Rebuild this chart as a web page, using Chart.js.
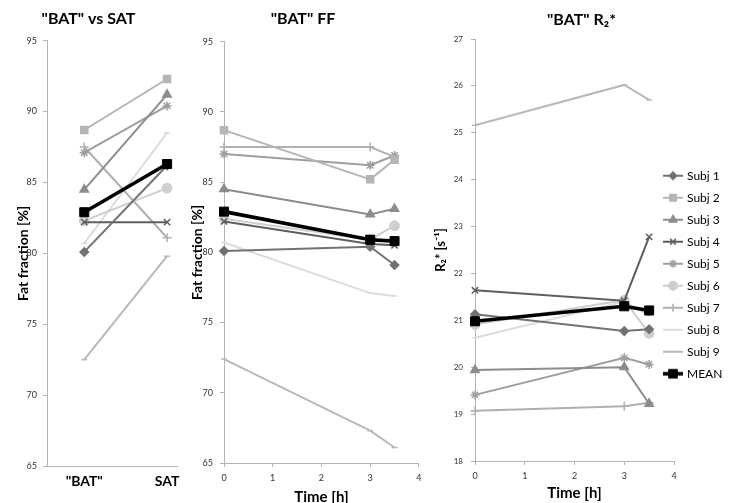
<!DOCTYPE html>
<html><head><meta charset="utf-8">
<script src="https://cdn.jsdelivr.net/npm/chart.js@4.4.1/dist/chart.umd.min.js"></script>
<style>
html,body{margin:0;padding:0;background:#fff;width:733px;height:503px;overflow:hidden;position:relative}
canvas{position:absolute;top:0}
</style></head><body>
<canvas id="c1" width="250" height="510" style="left:0px"></canvas>
<canvas id="c2" width="242" height="510" style="left:185px"></canvas>
<canvas id="c3" width="303" height="510" style="left:430px"></canvas>
<script>
// ---------- DATA ----------
const seriesNames = ['Subj 1','Subj 2','Subj 3','Subj 4','Subj 5','Subj 6','Subj 7','Subj 8','Subj 9','MEAN'];
const groups = ['"BAT"', 'SAT'];
const times = [0, 3, 3.5];

// Panel 1: fat fraction [%], "BAT" vs SAT (one row per series)
const batVsSat = [
  [80.1, 86.2],
  [88.7, 92.3],
  [84.5, 91.2],
  [82.2, 82.2],
  [87.1, 90.4],
  [82.3, 84.6],
  [87.5, 81.1],
  [80.7, 88.5],
  [72.5, 79.8],
  [82.9, 86.3]
];

// Panel 2: "BAT" fat fraction [%] at times 0, 3, 3.5 h
const batFF = [
  [80.1, 80.4, 79.1],
  [88.7, 85.2, 86.6],
  [84.5, 82.7, 83.1],
  [82.2, 80.6, 80.5],
  [87.0, 86.2, 86.9],
  [82.4, 80.9, 81.9],
  [87.5, 87.5, 86.8],
  [80.7, 77.1, 76.9],
  [72.4, 67.3, 66.1],
  [82.9, 80.9, 80.8]
];

// Panel 3: "BAT" R2* [1/s] at times 0, 3, 3.5 h (Subj 2 not available)
const batR2 = [
  [21.13, 20.77, 20.81],
  [null, null, null],
  [19.94, 20.00, 19.22],
  [21.64, 21.42, 22.78],
  [19.41, 20.20, 20.06],
  [20.91, 21.43, 20.72],
  [19.07, 19.17, 19.24],
  [20.63, 21.40, 21.10],
  [25.16, 26.02, 25.70],
  [20.98, 21.30, 21.21]
];

const ffTicks = {min: 65, max: 95, step: 5};
const r2Ticks = {min: 18, max: 27, step: 1};
const timeTicks = {min: 0, max: 4, step: 1};

// ---------- STYLE ----------
const FONT = 'Lato, "Open Sans", "DejaVu Sans", sans-serif';
Chart.defaults.font.family = FONT;
const AXIS = '#b3b3b3';
const colors  = ['#727272','#b5b5b5','#8c8c8c','#5e5e5e','#9e9e9e','#cfcfcf','#b0b0b0','#dcdcdc','#b9b9b9','#000000'];
const pStyles = ['rectRot','rect','triangle','crossRot','star','circle','cross','line','line','rect'];
const pRadius = [4.2, 5, 4.8, 4.5, 4.5, 4.6, 4.5, 3, 3, 6.4];
const lWidth  = [2, 2, 2, 2, 2, 2, 2, 2, 2, 3.6];

function makeDatasets(xs, rows) {
  return rows.map((row, i) => ({
    label: seriesNames[i],
    data: row.map((v, j) => ({x: xs[j], y: v})),
    borderColor: colors[i],
    backgroundColor: colors[i],
    pointBackgroundColor: colors[i],
    pointBorderColor: colors[i],
    pointStyle: pStyles[i],
    pointRadius: pRadius[i],
    pointBorderWidth: (i === 9) ? 1 : 1.5,
    borderWidth: lWidth[i],
    tension: 0,
    clip: false,
    order: i === 9 ? 0 : 1
  }));
}

function yScale(t, width, title, titlePad, titleSize, tickPad, tickSize) {
  return {
    type: 'linear', position: 'left', min: t.min, max: t.max,
    ticks: {stepSize: t.step, color: '#333', padding: tickPad, font: {family: FONT, size: tickSize}},
    grid: {display: true, drawOnChartArea: false, drawTicks: true, tickLength: 4, color: AXIS},
    border: {display: true, color: AXIS, width: 1},
    title: {display: true, text: title, color: '#000', font: {family: FONT, size: titleSize, weight: 'bold'}, padding: {top: titlePad, bottom: 0}},
    afterFit: s => { s.width = width; }
  };
}
function timeScale(height, titleBottom) {
  return {
    type: 'linear', position: 'bottom', min: timeTicks.min, max: timeTicks.max,
    ticks: {stepSize: timeTicks.step, color: '#333', padding: 5.5, font: {family: FONT, size: 9}, maxRotation: 0},
    grid: {display: true, drawOnChartArea: false, drawTicks: true, tickLength: 4, color: AXIS},
    border: {display: true, color: AXIS, width: 1},
    title: {display: true, text: 'Time [h]', color: '#000', font: {family: FONT, size: 15, weight: 'bold'}, padding: {top: 0, bottom: titleBottom}},
    afterFit: s => { s.height = height; }
  };
}
function titleOpt(text, top, bottom) {
  return {display: true, text: text, color: '#000', font: {family: FONT, size: 16, weight: 'bold'}, padding: {top: top, bottom: bottom}};
}
const common = {responsive: false, animation: false, devicePixelRatio: 1, events: []};

// ---------- Panel 1 ----------
new Chart(document.getElementById('c1'), {
  type: 'line',
  data: {datasets: makeDatasets(groups.map((g, i) => i + 1), batVsSat)},
  options: Object.assign({}, common, {
    layout: {padding: {left: 0, top: 0, right: 73, bottom: 0}},
    plugins: {legend: {display: false}, tooltip: {enabled: false}, title: titleOpt('"BAT" vs SAT', 9, 12.5)},
    scales: {
      x: {
        type: 'linear', position: 'bottom', min: 0.55, max: 2.12,
        afterBuildTicks: s => { s.ticks = groups.map((g, i) => ({value: i + 1})); },
        ticks: {autoSkip: false, maxRotation: 0, color: '#000', padding: 7, font: {family: FONT, size: 14, weight: 'bold'},
                callback: v => groups[Math.round(v) - 1]},
        grid: {display: true, drawOnChartArea: false, drawTicks: false},
        border: {display: true, color: AXIS, width: 1},
        afterFit: s => { s.height = 44; }
      },
      y: yScale(ffTicks, 47, 'Fat fraction [%]', 14.6, 14, 6, 9)
    }
  })
});

// ---------- Panel 2 ----------
new Chart(document.getElementById('c2'), {
  type: 'line',
  data: {datasets: makeDatasets(times, batFF)},
  options: Object.assign({}, common, {
    layout: {padding: {left: 0, top: 0, right: 6, bottom: 0}},
    plugins: {legend: {display: false}, tooltip: {enabled: false}, title: titleOpt('"BAT" FF', 9, 13.5)},
    scales: {
      x: timeScale(47, 4),
      y: yScale(ffTicks, 39, 'Fat fraction [%]', 3.6, 14, 7, 9)
    }
  })
});

// ---------- Panel 3 ----------
function legendIcon(i) {
  const c = document.createElement('canvas');
  c.width = 20; c.height = 12;
  const ctx = c.getContext('2d');
  ctx.strokeStyle = colors[i]; ctx.fillStyle = colors[i];
  ctx.lineWidth = lWidth[i];
  ctx.beginPath(); ctx.moveTo(0, 6); ctx.lineTo(20, 6); ctx.stroke();
  ctx.lineWidth = 1.5;
  if (pStyles[i] !== 'line') {
    Chart.helpers.drawPoint(ctx, {pointStyle: pStyles[i], radius: pRadius[i] * 0.9, borderWidth: 1.5}, 10, 6);
  }
  return c;
}
const C3_LEFT = 430;
const legendPlace = {
  id: 'legendPlace',
  afterLayout(chart) {
    const L = chart.legend;
    if (!L) return;
    const h = L.bottom - L.top;
    L.left = 655 - C3_LEFT; L.right = L.left + 78; L.width = 78;
    L.top = 159.7; L.bottom = L.top + h;
  }
};
new Chart(document.getElementById('c3'), {
  type: 'line',
  data: {datasets: makeDatasets(times, batR2)},
  plugins: [legendPlace],
  options: Object.assign({}, common, {
    layout: {padding: {left: 0, top: 0, right: 0, bottom: 0}},
    plugins: {
      tooltip: {enabled: false},
      title: titleOpt('"BAT" R\u2082*', 10, 9.8),
      legend: {
        display: true, position: 'right', align: 'start', maxWidth: 59,
        labels: {
          usePointStyle: true, pointStyleWidth: 16, padding: 10, color: '#000',
          font: {family: FONT, size: 12},
          generateLabels: chart => chart.data.datasets.map((ds, i) => ({
            text: ds.label, pointStyle: legendIcon(i), fillStyle: colors[i], strokeStyle: colors[i],
            lineWidth: 0, hidden: false, datasetIndex: i, fontColor: '#000'
          }))
        }
      }
    },
    scales: {
      x: timeScale(49, 8),
      y: yScale(r2Ticks, 45, 'R\u2082* [s\u207B\u00B9]', 3.2, 13, 8, 8)
    }
  })
});
</script>
</body></html>
